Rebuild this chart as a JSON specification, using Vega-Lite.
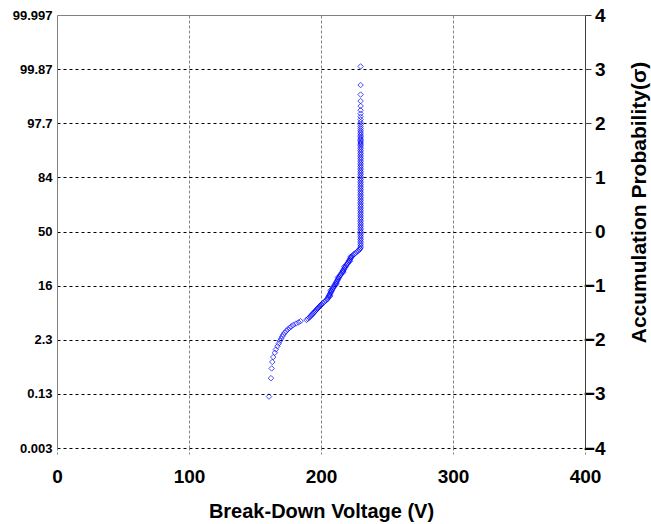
{
  "$schema": "https://vega.github.io/schema/vega-lite/v6.json",
  "autosize": {"type": "none"},
  "width": 528,
  "height": 433,
  "padding": {"left": 57, "top": 15, "right": 66, "bottom": 76},
  "config": {
    "view": {"stroke": null},
    "font": "Liberation Sans",
    "axis": {"labelFont": "Liberation Sans", "titleFont": "Liberation Sans", "labelColor": "#000", "titleColor": "#000"}
  },
  "data": {"values": [
    {"voltage": 160.6, "sigma": -3.05}, {"voltage": 162.1, "sigma": -2.71}, {"voltage": 162.6, "sigma": -2.53},
    {"voltage": 163.1, "sigma": -2.41}, {"voltage": 163.8, "sigma": -2.32}, {"voltage": 165.0, "sigma": -2.24},
    {"voltage": 165.8, "sigma": -2.18}, {"voltage": 167.0, "sigma": -2.12}, {"voltage": 168.0, "sigma": -2.07},
    {"voltage": 168.9, "sigma": -2.02}, {"voltage": 169.8, "sigma": -1.98}, {"voltage": 170.6, "sigma": -1.94},
    {"voltage": 171.4, "sigma": -1.905}, {"voltage": 172.5, "sigma": -1.87}, {"voltage": 173.6, "sigma": -1.84},
    {"voltage": 174.8, "sigma": -1.81}, {"voltage": 176.2, "sigma": -1.78}, {"voltage": 177.5, "sigma": -1.753},
    {"voltage": 179.0, "sigma": -1.727}, {"voltage": 181.0, "sigma": -1.702}, {"voltage": 183.0, "sigma": -1.679},
    {"voltage": 184.5, "sigma": -1.656}, {"voltage": 189.0, "sigma": -1.634}, {"voltage": 190.0, "sigma": -1.613},
    {"voltage": 191.0, "sigma": -1.592}, {"voltage": 191.8, "sigma": -1.572}, {"voltage": 192.5, "sigma": -1.553},
    {"voltage": 193.2, "sigma": -1.534}, {"voltage": 193.9, "sigma": -1.516}, {"voltage": 194.6, "sigma": -1.498},
    {"voltage": 195.3, "sigma": -1.48}, {"voltage": 195.9, "sigma": -1.464}, {"voltage": 196.5, "sigma": -1.447},
    {"voltage": 197.1, "sigma": -1.431}, {"voltage": 197.7, "sigma": -1.416}, {"voltage": 198.3, "sigma": -1.401},
    {"voltage": 198.9, "sigma": -1.385}, {"voltage": 199.4, "sigma": -1.371}, {"voltage": 200.0, "sigma": -1.357},
    {"voltage": 200.5, "sigma": -1.342}, {"voltage": 201.5, "sigma": -1.32}, {"voltage": 202.5, "sigma": -1.30},
    {"voltage": 203.5, "sigma": -1.28}, {"voltage": 204.5, "sigma": -1.26}, {"voltage": 204.9, "sigma": -1.24},
    {"voltage": 205.4, "sigma": -1.22}, {"voltage": 205.8, "sigma": -1.20}, {"voltage": 207.0, "sigma": -1.19},
    {"voltage": 206.2, "sigma": -1.18}, {"voltage": 206.7, "sigma": -1.16}, {"voltage": 207.1, "sigma": -1.14},
    {"voltage": 207.5, "sigma": -1.12}, {"voltage": 208.0, "sigma": -1.10}, {"voltage": 207.2, "sigma": -1.09},
    {"voltage": 208.4, "sigma": -1.08}, {"voltage": 208.8, "sigma": -1.06}, {"voltage": 209.3, "sigma": -1.04},
    {"voltage": 209.7, "sigma": -1.02}, {"voltage": 210.2, "sigma": -1.00}, {"voltage": 210.6, "sigma": -0.98},
    {"voltage": 211.8, "sigma": -0.97}, {"voltage": 211.1, "sigma": -0.96}, {"voltage": 211.5, "sigma": -0.94},
    {"voltage": 212.0, "sigma": -0.92}, {"voltage": 212.5, "sigma": -0.90}, {"voltage": 212.9, "sigma": -0.88},
    {"voltage": 213.4, "sigma": -0.86}, {"voltage": 212.7, "sigma": -0.85}, {"voltage": 213.8, "sigma": -0.84},
    {"voltage": 214.3, "sigma": -0.82}, {"voltage": 214.8, "sigma": -0.80}, {"voltage": 215.3, "sigma": -0.78},
    {"voltage": 215.8, "sigma": -0.76}, {"voltage": 217.0, "sigma": -0.75}, {"voltage": 216.3, "sigma": -0.74},
    {"voltage": 216.8, "sigma": -0.72}, {"voltage": 217.3, "sigma": -0.70}, {"voltage": 217.8, "sigma": -0.68},
    {"voltage": 218.3, "sigma": -0.66}, {"voltage": 217.6, "sigma": -0.65}, {"voltage": 218.8, "sigma": -0.64},
    {"voltage": 219.3, "sigma": -0.62}, {"voltage": 219.8, "sigma": -0.60}, {"voltage": 220.3, "sigma": -0.58},
    {"voltage": 220.8, "sigma": -0.56}, {"voltage": 221.9, "sigma": -0.55}, {"voltage": 221.3, "sigma": -0.54},
    {"voltage": 221.8, "sigma": -0.52}, {"voltage": 222.3, "sigma": -0.50}, {"voltage": 222.8, "sigma": -0.48},
    {"voltage": 222.3, "sigma": -0.47}, {"voltage": 223.3, "sigma": -0.46}, {"voltage": 224.0, "sigma": -0.44},
    {"voltage": 225.0, "sigma": -0.42}, {"voltage": 226.0, "sigma": -0.40}, {"voltage": 227.0, "sigma": -0.38},
    {"voltage": 228.0, "sigma": -0.36}, {"voltage": 229.0, "sigma": -0.34}, {"voltage": 229.6, "sigma": -0.32},
    {"voltage": 230, "sigma": -0.30}, {"voltage": 230, "sigma": -0.27}, {"voltage": 230, "sigma": -0.24},
    {"voltage": 230, "sigma": -0.21}, {"voltage": 230, "sigma": -0.18}, {"voltage": 230, "sigma": -0.15},
    {"voltage": 230, "sigma": -0.12}, {"voltage": 230, "sigma": -0.09}, {"voltage": 230, "sigma": -0.06},
    {"voltage": 230, "sigma": -0.03}, {"voltage": 230, "sigma": 0.0}, {"voltage": 230, "sigma": 0.03},
    {"voltage": 230, "sigma": 0.06}, {"voltage": 230, "sigma": 0.09}, {"voltage": 230, "sigma": 0.12},
    {"voltage": 230, "sigma": 0.15}, {"voltage": 230, "sigma": 0.18}, {"voltage": 230, "sigma": 0.21},
    {"voltage": 230, "sigma": 0.24}, {"voltage": 230, "sigma": 0.27}, {"voltage": 230, "sigma": 0.30},
    {"voltage": 230, "sigma": 0.33}, {"voltage": 230, "sigma": 0.36}, {"voltage": 230, "sigma": 0.39},
    {"voltage": 230, "sigma": 0.42}, {"voltage": 230, "sigma": 0.45}, {"voltage": 230, "sigma": 0.48},
    {"voltage": 230, "sigma": 0.51}, {"voltage": 230, "sigma": 0.54}, {"voltage": 230, "sigma": 0.57},
    {"voltage": 230, "sigma": 0.60}, {"voltage": 230, "sigma": 0.63}, {"voltage": 230, "sigma": 0.66},
    {"voltage": 230, "sigma": 0.69}, {"voltage": 230, "sigma": 0.72}, {"voltage": 230, "sigma": 0.75},
    {"voltage": 230, "sigma": 0.78}, {"voltage": 230, "sigma": 0.81}, {"voltage": 230, "sigma": 0.84},
    {"voltage": 230, "sigma": 0.87}, {"voltage": 230, "sigma": 0.90}, {"voltage": 230, "sigma": 0.93},
    {"voltage": 230, "sigma": 0.96}, {"voltage": 230, "sigma": 0.99}, {"voltage": 230, "sigma": 1.02},
    {"voltage": 230, "sigma": 1.05}, {"voltage": 230, "sigma": 1.08}, {"voltage": 230, "sigma": 1.11},
    {"voltage": 230, "sigma": 1.14}, {"voltage": 230, "sigma": 1.17}, {"voltage": 230, "sigma": 1.20},
    {"voltage": 230, "sigma": 1.23}, {"voltage": 230, "sigma": 1.26}, {"voltage": 230, "sigma": 1.29},
    {"voltage": 230, "sigma": 1.32}, {"voltage": 230, "sigma": 1.35}, {"voltage": 230, "sigma": 1.38},
    {"voltage": 230, "sigma": 1.41}, {"voltage": 230, "sigma": 1.44}, {"voltage": 230, "sigma": 1.47},
    {"voltage": 230, "sigma": 1.50}, {"voltage": 230, "sigma": 1.53}, {"voltage": 230, "sigma": 1.56},
    {"voltage": 230, "sigma": 1.59}, {"voltage": 230, "sigma": 1.613}, {"voltage": 230, "sigma": 1.634},
    {"voltage": 230, "sigma": 1.656}, {"voltage": 230, "sigma": 1.679}, {"voltage": 230, "sigma": 1.702},
    {"voltage": 230, "sigma": 1.727}, {"voltage": 230, "sigma": 1.753}, {"voltage": 230, "sigma": 1.78},
    {"voltage": 230, "sigma": 1.809}, {"voltage": 230, "sigma": 1.839}, {"voltage": 230, "sigma": 1.87},
    {"voltage": 230, "sigma": 1.905}, {"voltage": 230, "sigma": 1.941}, {"voltage": 230, "sigma": 1.98},
    {"voltage": 230, "sigma": 2.022}, {"voltage": 230, "sigma": 2.068}, {"voltage": 230, "sigma": 2.12},
    {"voltage": 230, "sigma": 2.177}, {"voltage": 230, "sigma": 2.24}, {"voltage": 230, "sigma": 2.318},
    {"voltage": 230, "sigma": 2.41}, {"voltage": 230, "sigma": 2.53}, {"voltage": 230, "sigma": 2.706},
    {"voltage": 230, "sigma": 3.05}
  ]},
  "encoding": {
    "x": {
      "field": "voltage", "type": "quantitative",
      "scale": {"domain": [0, 400], "nice": false, "zero": false},
      "axis": {
        "values": [0, 100, 200, 300, 400],
        "title": "Break-Down Voltage (V)",
        "titleFontSize": 20, "titleFontWeight": "bold",
        "titleY": 63, "titleBaseline": "middle",
        "labelFontSize": 19, "labelFontWeight": "bold",
        "labelFlush": false, "labelPadding": 13,
        "domain": false,
        "ticks": true, "tickSize": 6, "tickColor": "#808080", "tickDash": [2, 2],
        "grid": true, "gridColor": "#808080", "gridDash": [3, 2], "gridWidth": 1,
        "gridOpacity": {"condition": {"test": "datum.value === 0 || datum.value === 400", "value": 0}, "value": 1}
      }
    }
  },
  "layer": [
    {
      "mark": {"type": "point", "opacity": 0},
      "encoding": {
        "y": {
          "field": "sigma", "type": "quantitative",
          "scale": {"domain": [-4, 4], "nice": false, "zero": false},
          "axis": {
            "orient": "left",
            "values": [-4, -3, -2, -1, 0, 1, 2, 3, 4],
            "labelExpr": "datum.value == 4 ? '99.997' : datum.value == 3 ? '99.87' : datum.value == 2 ? '97.7' : datum.value == 1 ? '84' : datum.value == 0 ? '50' : datum.value == -1 ? '16' : datum.value == -2 ? '2.3' : datum.value == -3 ? '0.13' : '0.003'",
            "labelFontSize": 13, "labelFontWeight": "bold", "labelPadding": 5,
            "ticks": false,
            "domain": true, "domainColor": "#808080", "domainWidth": 1,
            "grid": true, "gridWidth": 1,
            "gridColor": {"condition": {"test": "datum.value === 4", "value": "#808080"}, "value": "#000000"},
            "gridDash": {"condition": {"test": "datum.value === 4", "value": []}, "value": [3, 3]},
            "title": null
          }
        }
      }
    },
    {
      "mark": {"type": "point", "shape": "diamond", "filled": false, "color": "#0000ff", "size": 30, "strokeWidth": 1},
      "encoding": {
        "y": {
          "field": "sigma", "type": "quantitative",
          "scale": {"domain": [-4, 4], "nice": false, "zero": false},
          "axis": {
            "orient": "right",
            "values": [-4, -3, -2, -1, 0, 1, 2, 3, 4],
            "labelFontSize": 19, "labelFontWeight": "bold",
            "labelAlign": "right", "labelPadding": 14,
            "ticks": true, "tickSize": 6, "tickColor": "#404040",
            "domain": true, "domainColor": "#404040", "domainWidth": 1,
            "grid": false,
            "title": "Accumulation Probability(σ)",
            "titleFontSize": 21, "titleFontWeight": "bold",
            "titleAngle": 270, "titleX": 54, "titleY": 187,
            "titleAlign": "center", "titleBaseline": "middle"
          }
        }
      }
    }
  ],
  "resolve": {"scale": {"y": "independent"}}
}
